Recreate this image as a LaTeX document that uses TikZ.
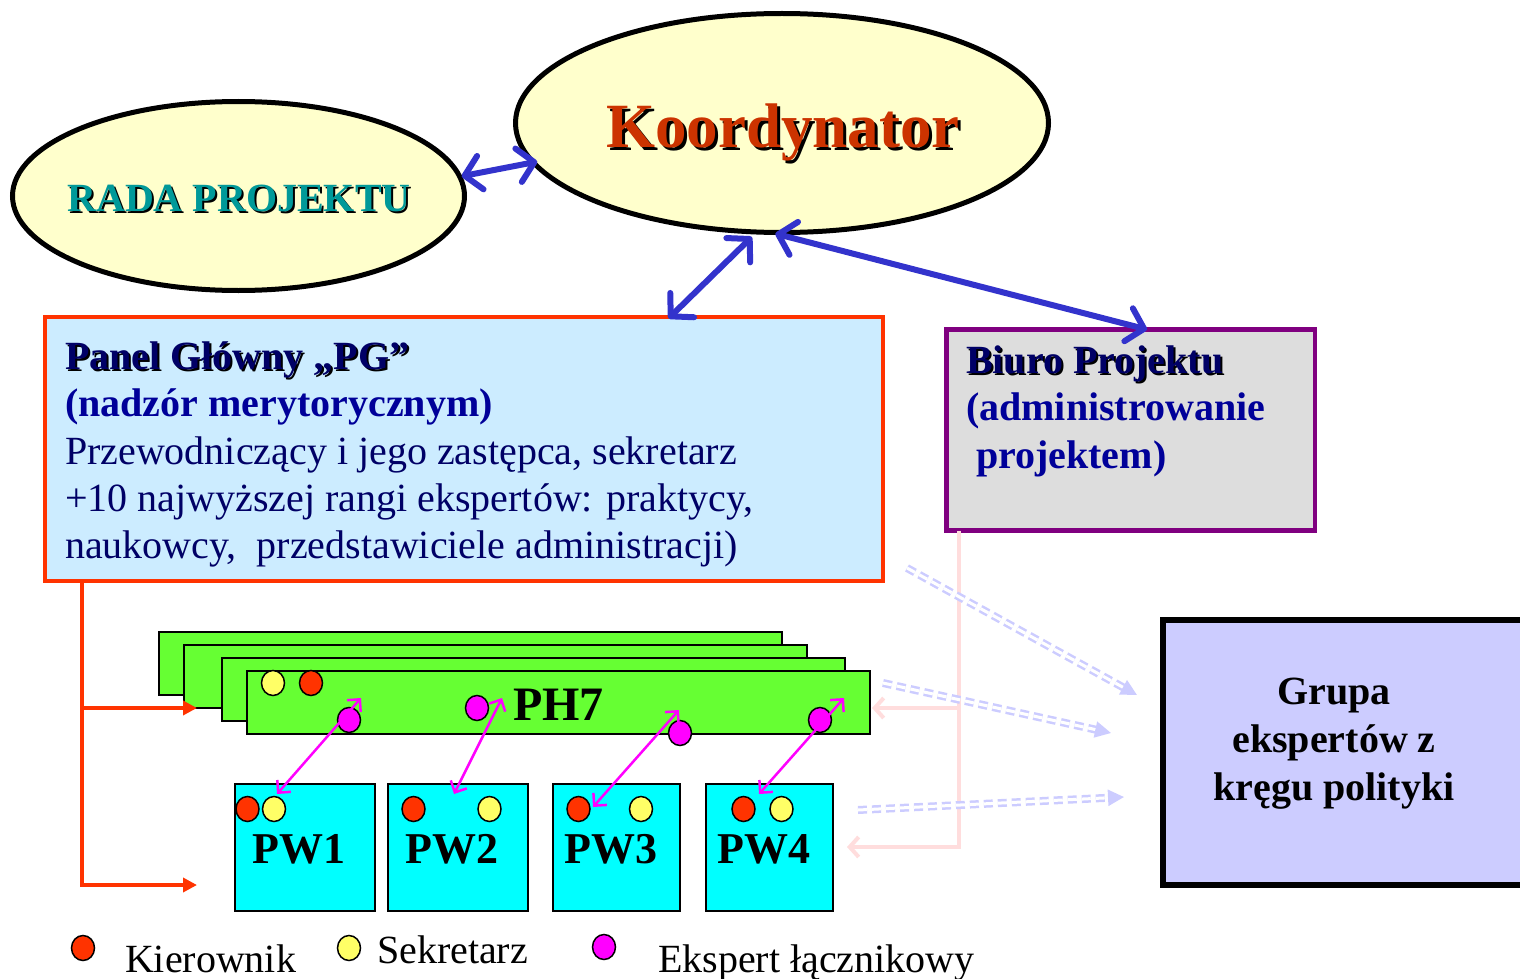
\documentclass[tikz,border=0pt]{standalone}
\usepackage{fontspec}
\setmainfont{Liberation Serif}
\usetikzlibrary{arrows.meta,shapes.geometric}

\definecolor{ellfill}{HTML}{FFFFCC}
\definecolor{koordred}{HTML}{CC3300}
\definecolor{radateal}{HTML}{009999}
\definecolor{linkblue}{HTML}{3333CC}
\definecolor{pgfill}{HTML}{CCECFF}
\definecolor{pgborder}{HTML}{FF3300}
\definecolor{navytext}{HTML}{000066}
\definecolor{bluetext}{HTML}{000099}
\definecolor{biurofill}{HTML}{DDDDDD}
\definecolor{biuroborder}{HTML}{800080}
\definecolor{grupafill}{HTML}{CCCCFF}
\definecolor{phgreen}{HTML}{66FF33}
\definecolor{pwcyan}{HTML}{00FFFF}
\definecolor{dotred}{HTML}{FF3300}
\definecolor{dotyellow}{HTML}{FFFF66}
\definecolor{dotmagenta}{HTML}{FF00FF}
\definecolor{paleline}{HTML}{FFDDDD}
\definecolor{dashblue}{HTML}{CCCCFF}

% font size given in pt (1pt = 1 unit of the picture)
\newcommand\pxfont[1]{\fontsize{#1}{#1}\selectfont}
% text with a black drop shadow: #1 offset, #2 colour, #3 text
\newcommand\shadowtext[3]{\rlap{\kern#1\raisebox{-#1}{\color{black}#3}}{\color{#2}#3}}

\tikzset{
  oval/.style={ellipse, draw=black, line width=5pt, fill=ellfill, inner sep=0pt, outer sep=0pt},
  panel/.style={rectangle, inner sep=0pt, outer sep=0pt, anchor=north west},
  phbar/.style={panel, draw=black, line width=2pt, fill=phgreen, minimum width=623pt, minimum height=63pt},
  pwbox/.style={panel, draw=black, line width=2pt, fill=pwcyan, minimum height=127pt},
  dot/.style={ellipse, draw=black, line width=1.5pt, minimum width=23pt, minimum height=25pt, inner sep=0pt},
  reddot/.style={dot, fill=dotred},
  yellowdot/.style={dot, fill=dotyellow},
  magdot/.style={dot, fill=dotmagenta},
  txt/.style={inner sep=0pt, outer sep=0pt, anchor=base west},
  linkarrow/.style={draw=linkblue, line width=6pt, line cap=round,
    arrows={Straight Barb[round,length=16pt,width=34pt]-Straight Barb[round,length=16pt,width=34pt]}},
  liaison/.style={draw=dotmagenta, line width=2.5pt,
    arrows={Straight Barb[length=9pt,width=18pt]-Straight Barb[length=9pt,width=18pt]}},
  supervise/.style={draw=pgborder, line width=3.5pt, -{Triangle[length=14pt,width=14pt]}},
  support/.style={draw=paleline, line width=4pt, -{Straight Barb[length=9pt,width=20pt]}},
  advice/.style={draw=dashblue, line width=2.5pt, double=white, double distance=3pt,
    dash pattern=on 9pt off 5pt, -{Triangle[length=16pt,width=16pt]}},
}

\begin{document}
\begin{tikzpicture}[x=1pt,y=-1pt]
\useasboundingbox (0,0) rectangle (1520,979);

% --- top level bodies
\node[oval, minimum width=452pt, minimum height=189pt] (rada) at (238.5,196) {};
\node[oval, minimum width=533pt, minimum height=219pt] (koord) at (782,123) {};
\node[txt, anchor=base] (radatxt) at (239,211)
  {\pxfont{40}\bfseries\shadowtext{2pt}{radateal}{RADA PROJEKTU}};
\node[txt, anchor=base] (koordtxt) at (783,147)
  {\pxfont{63}\bfseries\shadowtext{3pt}{koordred}{Koordynator}};

% --- main panel
\node[panel, draw=pgborder, line width=4pt, fill=pgfill,
      minimum width=838pt, minimum height=264pt] (pg) at (45,317) {};
\node[txt] (pg1) at (65,369) {\pxfont{40}\bfseries\shadowtext{2pt}{navytext}{Panel Główny „PG”}};
\node[txt] (pg2) at (65,416) {\pxfont{40}\bfseries\color{bluetext}(nadzór merytorycznym)};
\node[txt] (pg3) at (65,464) {\pxfont{40}\color{navytext}Przewodniczący i jego zastępca, sekretarz};
\node[txt] (pg4) at (65,511) {\pxfont{40}\color{navytext}+10 najwyższej rangi ekspertów: praktycy,};
\node[txt] (pg5) at (65,558) {\pxfont{40}\color{navytext}naukowcy,\ \ przedstawiciele administracji)};

% --- project office
\node[panel, draw=biuroborder, line width=4.5pt, fill=biurofill,
      minimum width=368.5pt, minimum height=201pt] (biuro) at (946.5,329.5) {};
\node[txt] (bp1) at (966,373) {\pxfont{40}\bfseries\shadowtext{2pt}{navytext}{Biuro Projektu}};
\node[txt] (bp2) at (966,420) {\pxfont{40}\bfseries\color{bluetext}(administrowanie};
\node[txt] (bp3) at (976,468) {\pxfont{40}\bfseries\color{bluetext}projektem)};

% --- policy experts
\node[panel, draw=black, line width=6pt, fill=grupafill,
      minimum width=367pt, minimum height=265pt] (grupa) at (1163,620) {};
\node[txt, anchor=base] (gr1) at (1334,704) {\pxfont{40}\bfseries Grupa};
\node[txt, anchor=base] (gr2) at (1334,752) {\pxfont{40}\bfseries ekspertów z};
\node[txt, anchor=base] (gr3) at (1334,800) {\pxfont{40}\bfseries kręgu polityki};

% --- connections of the top level
\draw[linkarrow, shorten <=2pt, shorten >=-4pt] (rada.5) -- (koord.189);
\draw[linkarrow, shorten <=-2pt, shorten >=7pt] ([xshift=625pt]pg.north west) -- (koord.257);
\draw[linkarrow, shorten >=5pt] ([xshift=200.5pt]biuro.north west) -- (koord.264.5);

% --- support lines from the project office
\coordinate (phsup) at (872,708);
\coordinate (pwsup) at (847,847);
\draw[support] ([xshift=12.5pt]biuro.south west) |- (pwsup);
\draw[support] ([xshift=12.5pt]biuro.south west |- phsup) -- (phsup);

% --- horizontal panels (stack)
\node[phbar] (ph1) at (159,632) {};
\node[phbar] (ph2) at (184,645) {};
\node[phbar] (ph3) at (222,658) {};
\node[phbar] (ph7) at (247,671) {};
\node[txt] (ph7txt) at (513,720) {\pxfont{48}\bfseries PH7};

% --- working panels
\node[pwbox, minimum width=140pt] (pw1) at (235,784) {};
\node[pwbox, minimum width=140pt] (pw2) at (388,784) {};
\node[pwbox, minimum width=127pt] (pw3) at (553,784) {};
\node[pwbox, minimum width=127.5pt] (pw4) at (705.5,784) {};
\node[txt, anchor=base] (pw1txt) at (299,863) {\pxfont{44}\bfseries PW1};
\node[txt, anchor=base] (pw2txt) at (452,863) {\pxfont{44}\bfseries PW2};
\node[txt, anchor=base] (pw3txt) at (611,863) {\pxfont{44}\bfseries PW3};
\node[txt, anchor=base] (pw4txt) at (764,863) {\pxfont{44}\bfseries PW4};

% --- supervision lines from the main panel
\coordinate (phin) at (197,708);
\coordinate (pwin) at (197,885);
\draw[supervise] ([xshift=37pt]pg.south west) |- (pwin);
\draw[supervise] ([xshift=37pt]pg.south west |- phin) -- (phin);

% --- roles on the panels
\node[yellowdot] (phsek) at (273,683) {};
\node[reddot] (phkier) at (311,683) {};
\node[magdot] (phm1) at (349,720) {};
\node[magdot] (phm2) at (477,708) {};
\node[magdot] (phm3) at (680,733) {};
\node[magdot] (phm4) at (820,720) {};
\node[reddot] (pw1k) at (247.5,809) {};
\node[yellowdot] (pw1s) at (274,809) {};
\node[reddot] (pw2k) at (413.5,809) {};
\node[yellowdot] (pw2s) at (489.5,809) {};
\node[reddot] (pw3k) at (578.5,809) {};
\node[yellowdot] (pw3s) at (641,809) {};
\node[reddot] (pw4k) at (743.5,809) {};
\node[yellowdot] (pw4s) at (781.5,809) {};

% --- liaison links between PH7 and the working panels
\coordinate (l1a) at (361,698); \coordinate (l1b) at (277,794);
\coordinate (l2a) at (502,698); \coordinate (l2b) at (454,794);
\coordinate (l3a) at (679,710); \coordinate (l3b) at (593,807);
\coordinate (l4a) at (844,698); \coordinate (l4b) at (759,794);
\draw[liaison] (l1a) -- (l1b);
\draw[liaison] (l2a) -- (l2b);
\draw[liaison] (l3a) -- (l3b);
\draw[liaison] (l4a) -- (l4b);

% --- consultation with the policy experts
\coordinate (c1a) at (907,568);  \coordinate (c1b) at (1137,695);
\coordinate (c2a) at (883,683);  \coordinate (c2b) at (1111,733);
\coordinate (c3a) at (858,810);  \coordinate (c3b) at (1124,797);
\draw[advice] (c1a) -- (c1b);
\draw[advice] (c2a) -- (c2b);
\draw[advice] (c3a) -- (c3b);

% --- legend
\node[reddot] (lgk) at (83,948) {};
\node[txt] (lgktxt) at (125,972) {\pxfont{40}Kierownik};
\node[yellowdot] (lgs) at (349,948) {};
\node[txt] (lgstxt) at (377,963) {\pxfont{40}Sekretarz};
\node[magdot] (lgm) at (604,947) {};
\node[txt] (lgmtxt) at (658,972) {\pxfont{40}Ekspert łącznikowy};
\end{tikzpicture}
\end{document}
